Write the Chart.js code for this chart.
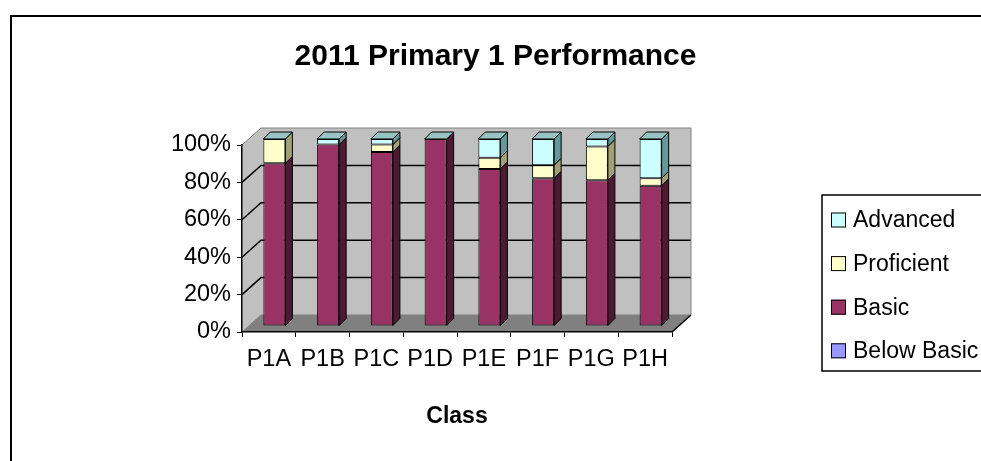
<!DOCTYPE html>
<html>
<head>
<meta charset="utf-8">
<script src="https://cdn.jsdelivr.net/npm/chart.js@4.4.1/dist/chart.umd.min.js"></script>
<style>
  html, body { margin: 0; padding: 0; background: #fff; }
  #wrap { width: 981px; height: 461px; position: relative; }
</style>
</head>
<body>
<div id="wrap"><canvas id="c" width="981" height="461"></canvas></div>
<script>
// ---- data ----
const categories = ['P1A', 'P1B', 'P1C', 'P1D', 'P1E', 'P1F', 'P1G', 'P1H'];
const belowBasic = [0, 0, 0, 0, 0, 0, 0, 0];
const basic      = [87, 97, 93, 100, 84, 79, 78, 75];
const proficient = [13, 0, 4, 0, 6, 7, 18, 4];
const advanced   = [0, 3, 3, 0, 10, 14, 4, 21];
const yTicks     = [0, 20, 40, 60, 80, 100];
const chartTitle = '2011 Primary 1 Performance';
const xTitle     = 'Class';

// ---- styles ----
const SANS = "'Liberation Sans', Arial, sans-serif";

const seriesStyle = [
  { label: 'Below Basic', data: belowBasic, front: '#9999ff', side: '#4d4d80', top: '#7a7acc' },
  { label: 'Basic',       data: basic,      front: '#993366', side: '#4d1a33', top: '#7a2952' },
  { label: 'Proficient',  data: proficient, front: '#ffffcc', side: '#a0a078', top: '#ccccA3' },
  { label: 'Advanced',    data: advanced,   front: '#ccffff', side: '#669999', top: '#99c4c4' }
];

const datasets = seriesStyle.map(s => ({
  label: s.label,
  data: s.data,
  backgroundColor: s.front,
  borderColor: '#000',
  borderWidth: 1,
  borderSkipped: false,
  sideColor: s.side,
  topColor: s.top,
  barPercentage: 0.41,
  categoryPercentage: 1.0,
  clip: false
}));

// ---- plugins ----
const walls3d = {
  id: 'walls3d',
  beforeDraw(chart, args, o) {
    const { ctx, chartArea: a, scales } = chart;
    const y = scales.y;
    const dx = o.dx, dy = o.dy;
    ctx.save();
    // outer frame
    ctx.strokeStyle = '#000';
    ctx.lineWidth = 2;
    ctx.beginPath();
    ctx.moveTo(o.frameX, chart.height + 2);
    ctx.lineTo(o.frameX, o.frameY);
    ctx.lineTo(chart.width + 2, o.frameY);
    ctx.stroke();

    // back wall
    ctx.fillStyle = '#c0c0c0';
    ctx.fillRect(a.left + dx, a.top + dy, a.right - a.left, a.bottom - a.top);
    // left wall
    ctx.beginPath();
    ctx.moveTo(a.left, a.bottom);
    ctx.lineTo(a.left, a.top);
    ctx.lineTo(a.left + dx, a.top + dy);
    ctx.lineTo(a.left + dx, a.bottom + dy);
    ctx.closePath();
    ctx.fill();
    // floor
    ctx.fillStyle = '#808080';
    ctx.beginPath();
    ctx.moveTo(a.left, a.bottom);
    ctx.lineTo(a.right, a.bottom);
    ctx.lineTo(a.right + dx, a.bottom + dy);
    ctx.lineTo(a.left + dx, a.bottom + dy);
    ctx.closePath();
    ctx.fill();

    // grid lines on walls
    ctx.strokeStyle = '#000';
    ctx.lineWidth = 1.5;
    y.ticks.forEach(t => {
      if (t.value <= y.min || t.value >= y.max) return;
      const py = y.getPixelForValue(t.value);
      ctx.beginPath();
      ctx.moveTo(a.left, py);
      ctx.lineTo(a.left + dx, py + dy);
      ctx.lineTo(a.right + dx, py + dy);
      ctx.stroke();
    });

    // wall outlines
    ctx.strokeStyle = '#808080';
    ctx.lineWidth = 1;
    ctx.beginPath();
    ctx.moveTo(a.left, a.top);
    ctx.lineTo(a.left + dx, a.top + dy);
    ctx.lineTo(a.right + dx, a.top + dy);
    ctx.lineTo(a.right + dx, a.bottom + dy);
    ctx.stroke();
    ctx.beginPath();
    ctx.moveTo(a.left, a.bottom);
    ctx.lineTo(a.left + dx, a.bottom + dy);
    ctx.lineTo(a.right + dx, a.bottom + dy);
    ctx.stroke();
    // floor right edge
    ctx.strokeStyle = '#000';
    ctx.lineWidth = 1.5;
    ctx.beginPath();
    ctx.moveTo(a.right, a.bottom);
    ctx.lineTo(a.right + dx, a.bottom + dy);
    ctx.stroke();
    ctx.restore();
  }
};

const bars3d = {
  id: 'bars3d',
  beforeDatasetsDraw(chart, args, o) {
    chart.ctx.save();
    chart.ctx.translate(o.shiftX, o.shiftY);
  },
  afterDatasetsDraw(chart, args, o) {
    const ctx = chart.ctx;
    const d = o.depth;
    const metas = chart.getSortedVisibleDatasetMetas();
    const n = chart.data.labels.length;
    ctx.lineWidth = 1;
    ctx.strokeStyle = '#000';
    ctx.lineJoin = 'miter';
    for (let i = 0; i < n; i++) {
      let best = null;
      metas.forEach(m => {
        const el = m.data[i];
        if (!el) return;
        const ds = chart.data.datasets[m.index];
        const top = Math.min(el.y, el.base);
        const bot = Math.max(el.y, el.base);
        const right = el.x + el.width / 2;
        const left = el.x - el.width / 2;
        if (bot - top >= 0.5) {
          ctx.fillStyle = ds.sideColor;
          ctx.beginPath();
          ctx.moveTo(right, bot);
          ctx.lineTo(right, top);
          ctx.lineTo(right + d, top - d);
          ctx.lineTo(right + d, bot - d);
          ctx.closePath();
          ctx.fill();
          ctx.stroke();
        }
        if (!best || top <= best.top) best = { top, left, right, ds: chart.data.datasets[metas[metas.length - 1].index] };
      });
      if (best) {
        ctx.fillStyle = best.ds.topColor;
        ctx.beginPath();
        ctx.moveTo(best.left, best.top);
        ctx.lineTo(best.left + d, best.top - d);
        ctx.lineTo(best.right + d, best.top - d);
        ctx.lineTo(best.right, best.top);
        ctx.closePath();
        ctx.fill();
        ctx.stroke();
      }
    }
    ctx.restore();
  }
};

const boxLegend = {
  id: 'boxLegend',
  afterDraw(chart, args, o) {
    const ctx = chart.ctx;
    ctx.save();
    ctx.fillStyle = '#fff';
    ctx.fillRect(o.x, o.y, o.w, o.h);
    ctx.strokeStyle = '#000';
    ctx.lineWidth = 1.5;
    ctx.strokeRect(o.x, o.y, o.w, o.h);
    const items = chart.data.datasets.slice().reverse();
    ctx.font = o.font;
    ctx.textBaseline = 'middle';
    ctx.textAlign = 'left';
    items.forEach((ds, k) => {
      const cy = o.firstY + k * o.step;
      ctx.fillStyle = ds.backgroundColor;
      ctx.fillRect(o.markX, cy - o.mark / 2, o.mark, o.mark);
      ctx.lineWidth = 1;
      ctx.strokeRect(o.markX + 0.5, cy - o.mark / 2 + 0.5, o.mark - 1, o.mark - 1);
      ctx.fillStyle = '#000';
      ctx.fillText(ds.label, o.textX, cy + 1);
    });
    ctx.restore();
  }
};

new Chart(document.getElementById('c'), {
  type: 'bar',
  data: { labels: categories, datasets },
  plugins: [walls3d, bars3d, boxLegend],
  options: {
    responsive: false,
    animation: false,
    events: [],
    layout: { padding: { left: 10, right: 0, top: 0, bottom: 29 } },
    plugins: {
      legend: { display: false },
      tooltip: { enabled: false },
      title: {
        display: true,
        text: chartTitle,
        color: '#000',
        font: { family: SANS, size: 30, weight: 'bold', lineHeight: 1.2 },
        padding: { top: 39, bottom: 70 }
      },
      walls3d: { dx: 19, dy: -17, frameX: 11, frameY: 16 },
      bars3d: { shiftX: 5.5, shiftY: -6, depth: 7 },
      boxLegend: {
        x: 822, y: 195, w: 170, h: 176,
        markX: 831, mark: 15, textX: 853,
        firstY: 220, step: 43.6,
        font: "23px " + SANS
      }
    },
    scales: {
      x: {
        stacked: true,
        offset: true,
        afterFit: s => { s.height = 100; },
        grid: { display: true, drawOnChartArea: false, drawTicks: true, tickLength: 5, color: '#000', offset: true },
        border: { display: true, color: '#000', width: 1.5 },
        ticks: { color: '#000', padding: 8, font: { family: SANS, size: 23.5 }, maxRotation: 0, autoSkip: false },
        title: {
          display: true, text: xTitle, color: '#000',
          font: { family: SANS, size: 23, weight: 'bold', lineHeight: 1.2 },
          padding: { top: 0, bottom: 2 }
        }
      },
      y: {
        stacked: true,
        min: 0, max: 100,
        afterFit: s => { s.width = 232; },
        afterBuildTicks: s => { s.ticks = yTicks.map(v => ({ value: v })); },
        grid: { display: true, drawOnChartArea: false, drawTicks: true, tickLength: 5, color: '#000' },
        border: { display: true, color: '#000', width: 1.5 },
        ticks: { color: '#000', padding: 6, font: { family: SANS, size: 23.5 }, callback: v => v + '%' }
      },
      yRight: {
        type: 'linear',
        position: 'right',
        display: true,
        afterFit: s => { s.width = 309; },
        grid: { display: false },
        border: { display: false },
        ticks: { display: false }
      }
    }
  }
});
</script>
</body>
</html>
